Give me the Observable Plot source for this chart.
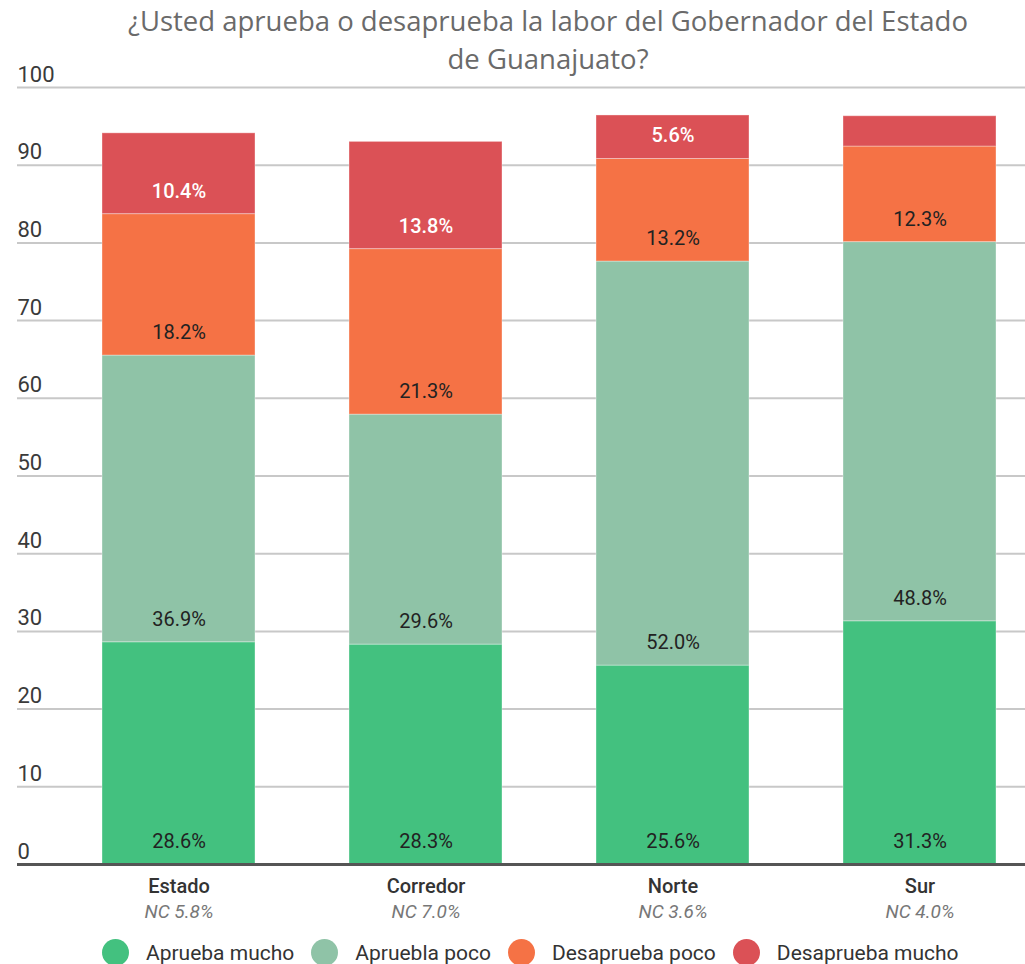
<!DOCTYPE html>
<html>
<head>
<meta charset="utf-8">
<script src="https://cdn.jsdelivr.net/npm/d3@7"></script>
<script src="https://cdn.jsdelivr.net/npm/@observablehq/plot@0.6"></script>
<style>
body{margin:0;background:#fff;}
#wrap{position:relative;width:1025px;height:964px;font-family:Roboto,sans-serif;overflow:hidden;}
#chart{position:absolute;left:0;top:0;}
#title{position:absolute;top:2px;left:0;width:1096px;text-align:center;font-family:"Open Sans",sans-serif;font-size:27.5px;color:#6a6a6a;line-height:38px;}
#legend{position:absolute;top:939px;left:102px;display:flex;align-items:center;font-family:Roboto,sans-serif;font-size:21px;color:#333;}
#legend .item{display:flex;align-items:center;margin-right:17px;}
#legend .sw{width:27px;height:27px;border-radius:50%;margin-right:17px;}
</style>
</head>
<body>
<div id="wrap">
  <div id="chart"></div>
  <div id="title">¿Usted aprueba o desaprueba la labor del Gobernador del Estado<br>de Guanajuato?</div>
  <div id="legend"></div>
</div>
<script>
const regions = ["Estado", "Corredor", "Norte", "Sur"];
const ncLabels = ["NC 5.8%", "NC 7.0%", "NC 3.6%", "NC 4.0%"];
const series = ["Aprueba mucho", "Apruebla poco", "Desaprueba poco", "Desaprueba mucho"];
const colors = ["#43c17f", "#8fc3a7", "#f57245", "#db5156"];
const apruebaMucho = [28.6, 28.3, 25.6, 31.3];
const apruebaPoco = [36.9, 29.6, 52.0, 48.8];
const desapruebaPoco = [18.2, 21.3, 13.2, 12.3];
const desapruebaMucho = [10.4, 13.8, 5.6, 3.9];
const yTicks = [0, 10, 20, 30, 40, 50, 60, 70, 80, 90, 100];

const seriesValues = [apruebaMucho, apruebaPoco, desapruebaPoco, desapruebaMucho];
const data = [];
regions.forEach((r, i) => {
  series.forEach((s, j) => {
    data.push({region: r, series: s, value: seriesValues[j][i]});
  });
});
const fmt = d => d.value >= 5 ? d.value.toFixed(1) + "%" : null;
const lastSeries = "Desaprueba mucho";

const plot = Plot.plot({
  width: 1025,
  height: 930,
  marginTop: 87,
  marginBottom: 66,
  marginLeft: 17,
  marginRight: 0,
  style: {fontFamily: "Roboto, sans-serif", background: "transparent"},
  x: {domain: regions, range: [101, 996], paddingInner: 0.382, paddingOuter: 0, axis: null},
  y: {domain: [0, 100], axis: null},
  color: {domain: series, range: colors},
  marks: [
    Plot.ruleY(yTicks.filter(t => t > 0), {stroke: "#c8c8c8", strokeWidth: 2}),
    Plot.barY(data, {x: "region", y: "value", fill: "series", stroke: "#fff", strokeOpacity: 0.35, strokeWidth: 1}),
    Plot.ruleY([0], {stroke: "#555", strokeWidth: 3}),
    Plot.text(yTicks, {y: d => d, text: d => String(d), frameAnchor: "left", textAnchor: "start", dx: 0, dy: -13, fontSize: 22, fill: "#3a3a3a"}),
    Plot.text(data, Plot.stackY1({x: "region", y: "value", z: "series", text: d => d.series !== lastSeries ? fmt(d) : null, dy: -23, fontSize: 20, fill: "#222"})),
    Plot.text(data, Plot.stackY1({x: "region", y: "value", z: "series", text: d => d.series === lastSeries ? fmt(d) : null, dy: -23, fontSize: 20, fontWeight: 500, fill: "#fff"})),
    Plot.text(regions, {x: d => d, text: d => d, frameAnchor: "bottom", dy: 28, fontSize: 20, fontWeight: 500, fill: "#333"}),
    Plot.text(regions, {x: d => d, text: (d, i) => ncLabels[i], frameAnchor: "bottom", dy: 53, fontSize: 19, fontStyle: "italic", fill: "#777"})
  ]
});
document.getElementById("chart").appendChild(plot);

const legend = document.getElementById("legend");
series.forEach((s, i) => {
  const item = document.createElement("div");
  item.className = "item";
  const sw = document.createElement("div");
  sw.className = "sw";
  sw.style.background = colors[i];
  const lab = document.createElement("span");
  lab.textContent = s;
  item.appendChild(sw);
  item.appendChild(lab);
  legend.appendChild(item);
});
</script>
</body>
</html>
